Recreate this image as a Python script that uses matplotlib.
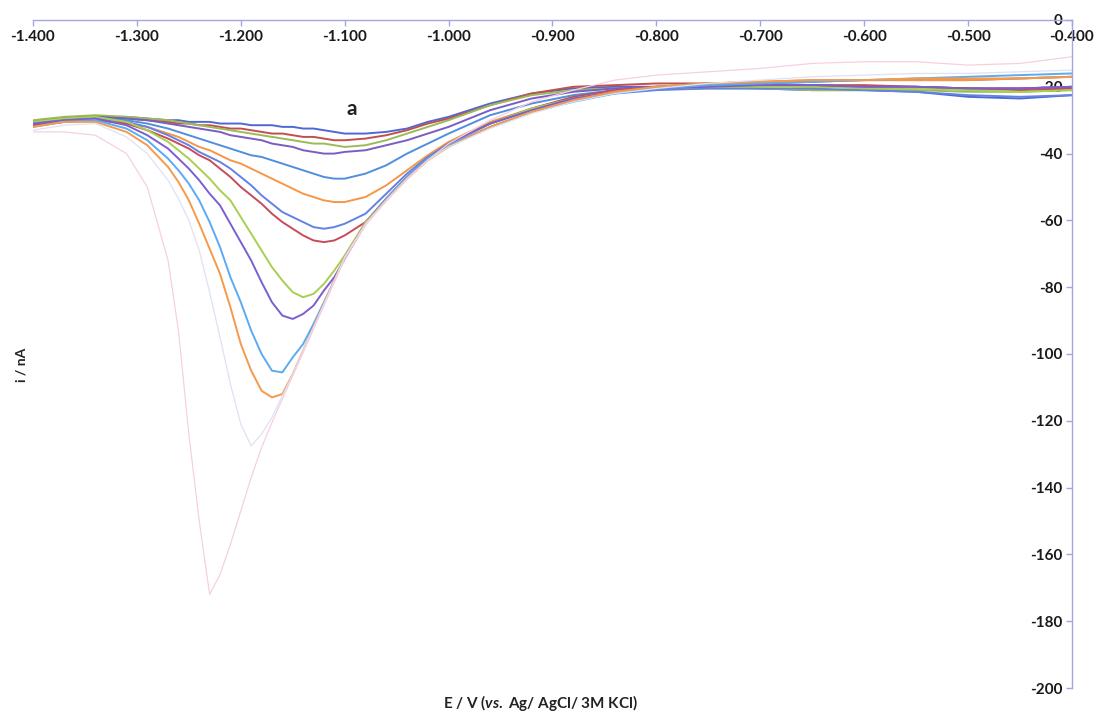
import matplotlib.pyplot as plt
from matplotlib.ticker import FormatStrFormatter, MultipleLocator

plt.rcParams['font.family'] = ['Lato', 'DejaVu Sans']
plt.rcParams['mathtext.fontset'] = 'custom'
plt.rcParams['mathtext.it'] = 'Lato:italic:bold'
plt.rcParams['mathtext.rm'] = 'Lato:bold'

# potential grid (V vs Ag/AgCl/3M KCl)
potential = [-1.40, -1.37, -1.34, -1.31, -1.29, -1.27, -1.26, -1.25, -1.24, -1.23,
             -1.22, -1.21, -1.20, -1.19, -1.18, -1.17, -1.16, -1.15, -1.14, -1.13,
             -1.12, -1.11, -1.10, -1.08, -1.06, -1.04, -1.02, -1.00, -0.96, -0.92,
             -0.88, -0.84, -0.80, -0.75, -0.70, -0.65, -0.60, -0.55, -0.50, -0.45, -0.40]

# stripping currents (nA), lowest concentration (a) first
i_a = [-30.5, -29.5, -29, -29, -29.5, -30, -30, -30.5, -30.5, -30.5,
       -31, -31, -31, -31.5, -31.5, -31.5, -32, -32, -32.5, -32.5,
       -33, -33.5, -34, -34, -33.5, -32.5, -30.5, -29, -25, -22,
       -20.5, -20, -20, -20, -20.5, -21, -21, -21.5, -23, -23.5, -22.5]
i_b = [-31, -30, -29.5, -29.5, -30, -30.5, -31, -31, -31.5, -31.5,
       -32, -32.5, -32.5, -33, -33.5, -34, -34, -34.5, -35, -35,
       -35.5, -36, -36, -35.5, -34.5, -33, -31, -29.5, -25.5, -22,
       -20, -19.5, -19, -19, -19, -19.5, -19.5, -20, -20.5, -20.5, -20]
i_c = [-30, -29, -28.5, -29, -29.5, -30, -30.5, -31, -31.5, -32,
       -32.5, -33, -33.5, -34, -34.5, -35, -35.5, -36, -36.5, -37,
       -37, -37.5, -38, -37.5, -36, -34, -32, -30, -25.5, -22.5,
       -21, -20.5, -20.5, -20.5, -20.5, -21, -21, -21, -21.5, -21.5, -21]
i_d = [-30.5, -29.5, -29, -29.5, -30, -31, -31.5, -32, -32.5, -33,
       -33.5, -34.5, -35, -35.5, -36, -37, -37.5, -38, -39, -39.5,
       -40, -40, -39.5, -39, -37.5, -36, -34, -32, -27, -23.5,
       -21.5, -20.5, -20, -19.5, -19.5, -20, -20, -20, -20.5, -20.5, -20]
i_e = [-31.5, -30, -29.5, -30, -31, -32.5, -33.5, -34.5, -35.5, -36.5,
       -37.5, -38.5, -39.5, -40.5, -41, -42, -43, -44, -45, -46,
       -47, -47.5, -47.5, -46, -43.5, -40, -37, -34, -28.5, -25,
       -22.5, -21, -20, -19, -18.5, -18.5, -18, -18, -18, -17.5, -17]
i_f = [-31.5, -30.5, -30, -31, -32, -34, -35, -36.5, -38, -39,
       -40.5, -42, -43, -44.5, -46, -47.5, -49, -50.5, -52, -53,
       -54, -54.5, -54.5, -53, -49.5, -45, -40.5, -36.5, -30.5, -26.5,
       -23.5, -21.5, -20, -19, -18.5, -18, -18, -18, -18, -17.5, -17]
i_g = [-31, -30, -29.5, -30.5, -32, -34.5, -36, -37.5, -39.5, -41,
       -42.5, -44.5, -47, -49.5, -52.5, -55, -57.5, -59, -60.5, -62,
       -62.5, -62, -61, -58, -52, -46, -41, -37, -31, -27,
       -24, -22, -21, -20.5, -20.5, -20.5, -21, -21.5, -22.5, -23, -22.5]
i_h = [-31.5, -30.5, -30, -31, -33, -35.5, -37, -38.5, -40.5, -42,
       -44.5, -47, -50, -52.5, -55, -58, -60.5, -62.5, -64.5, -66,
       -66.5, -66, -64.5, -60.5, -53.5, -47, -41.5, -37, -31, -26.5,
       -23, -21, -20, -19.5, -19.5, -19.5, -20, -20, -20.5, -21, -20.5]
i_i = [-30.5, -29.5, -29, -30.5, -33, -36.5, -39, -41.5, -44.5, -47.5,
       -51, -54, -59, -64, -69, -74, -78, -81.5, -83, -82,
       -79, -75, -70.5, -60.5, -53.5, -47, -41.5, -37, -31, -26.5,
       -23.5, -21.5, -20.5, -20, -20, -20, -20.5, -20.5, -21, -21.5, -21]
i_j = [-31, -30, -29.5, -31.5, -34.5, -38.5, -41.5, -44.5, -48, -52,
       -55.5, -61, -66.5, -72, -78.5, -84.5, -88.5, -89.5, -88, -85.5,
       -81, -77, -71.5, -61, -53.5, -47, -41.5, -37, -31, -27,
       -23.5, -21.5, -20.5, -20, -19.5, -19.5, -20, -20, -20.5, -20.5, -20]
i_k = [-32, -30.5, -30, -32.5, -36, -41.5, -45, -49, -54, -60.5,
       -68, -77, -84.5, -93, -100, -105, -105.5, -101, -97, -91,
       -84.5, -78, -71, -61, -53.5, -47, -41.5, -37.5, -32, -27.5,
       -24.5, -22, -20.5, -19.5, -19, -18.5, -18, -17.5, -17, -16.5, -16]
i_l = [-32, -30.5, -30.5, -33.5, -37.5, -44, -48.5, -54, -61, -68.5,
       -76, -86, -97, -105, -111, -113, -112, -106, -99, -92,
       -85, -78, -71, -61, -54, -47.5, -42, -38, -32, -27.5,
       -24, -21.5, -20, -19, -18.5, -18, -18, -17.5, -17.5, -17.5, -17]
i_m = [-33, -31.5, -31, -35, -40, -48, -53.5, -60, -69, -81.5,
       -95, -109, -121, -127.5, -124, -119, -112.5, -106, -99, -92,
       -85, -78, -71, -61, -54, -47.5, -42, -38, -32.5, -28,
       -24.5, -22, -20.5, -19, -18, -17, -16.5, -16, -16, -15.5, -15]
i_n = [-33.5, -33.5, -34.5, -40, -50, -72, -93, -124, -150, -172,
       -166, -157, -147, -137, -128, -120.5, -113.5, -106.5, -99.5, -92.5,
       -85.5, -78.5, -71.5, -61.5, -54, -47.5, -42, -37, -30, -24.5,
       -21, -18, -16.5, -15.5, -14.5, -13, -12.5, -12.5, -13.5, -13, -11]

currents = [i_a, i_b, i_c, i_d, i_e, i_f, i_g, i_h, i_i, i_j, i_k, i_l, i_m, i_n]
colors = ['#4f68d4', '#c0504d', '#9bbb59', '#7b5cc0', '#4f8fde', '#f79646',
          '#6282e4', '#c84a5c', '#a8d050', '#7a5fd0', '#5aabf2', '#f59a4a',
          '#dde2f5', '#f6cfe4']
widths = [1.4] * 12 + [0.9, 0.9]

fig = plt.figure(figsize=(11.04, 7.18), dpi=100)
ax = fig.add_axes([33 / 1104, 30 / 718, 1039 / 1104, 668 / 718])

for cur, col, lw in zip(currents, colors, widths):
    ax.plot(potential, cur, color=col, lw=lw)

ax.set_xlim(-1.4, -0.4)
ax.set_ylim(-200, 0)

# excel-style axes: x axis crosses at i = 0, y axis at E = -0.4
axis_col = '#a3a7de'
ax.spines['top'].set_visible(False)
ax.spines['right'].set_visible(False)
ax.spines['bottom'].set_position(('data', 0))
ax.spines['left'].set_position(('data', -0.4))
for s in ('bottom', 'left'):
    ax.spines[s].set_color(axis_col)
    ax.spines[s].set_linewidth(1.0)

ax.xaxis.set_major_locator(MultipleLocator(0.1))
ax.xaxis.set_major_formatter(FormatStrFormatter('%.3f'))
ax.yaxis.set_major_locator(MultipleLocator(20))
ax.yaxis.set_major_formatter(FormatStrFormatter('%d'))
ax.tick_params(axis='both', direction='out', length=4, width=1, color=axis_col,
               labelsize=11, labelcolor='#1a1a1a', pad=3)
for lbl in ax.get_xticklabels() + ax.get_yticklabels():
    lbl.set_fontweight('bold')

ax.text(-1.093, -29.5, 'a', fontsize=15, fontweight='bold', color='#222222',
        ha='center', va='bottom')

fig.text(22 / 1104, 1 - 365 / 718, 'i / nA', rotation=90, fontsize=10,
         fontweight='bold', color='#222222', ha='center', va='center')
fig.text(540 / 1104, 1 - 703 / 718, r'E / V ($\mathit{vs.}$ Ag/ AgCl/ 3M KCl)',
         fontsize=11, fontweight='bold', color='#222222', ha='center', va='center')

fig.savefig('out.png', dpi=100)
